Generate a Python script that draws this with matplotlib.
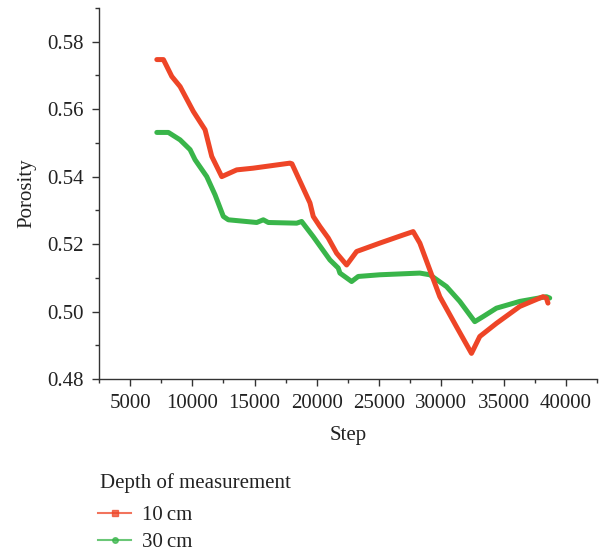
import matplotlib
matplotlib.use("Agg")
import matplotlib.pyplot as plt
from matplotlib.lines import Line2D
from matplotlib.ticker import MultipleLocator

plt.rcParams['font.family'] = ['Liberation Serif', 'DejaVu Serif']

# Porosity at 10 cm depth
step_10 = [7143, 7673, 8347, 9013, 10080, 11020, 11557, 12360, 13564, 14872,
           17842, 18000, 19448, 19712, 20250, 20916, 21590, 22393, 23195, 25065,
           26935, 27738, 28275, 29880, 31220, 32425, 33090, 34430, 36300, 38170,
           38440, 38570]
poro_10 = [0.5747, 0.5747, 0.5697, 0.5667, 0.5593, 0.5539, 0.5460, 0.5400, 0.5420, 0.5425,
           0.5440, 0.5438, 0.5322, 0.5282, 0.5252, 0.5218, 0.5173, 0.5138, 0.5178, 0.5203,
           0.5227, 0.5237, 0.5203, 0.5044, 0.4955, 0.4876, 0.4926, 0.4965, 0.5015, 0.5044,
           0.5040, 0.5025]

# Porosity at 30 cm depth
step_30 = [7143, 8074, 9013, 9816, 10217, 11156, 11822, 12488, 12890, 15169,
           15699, 16100, 18379, 18780, 19712, 21052, 21718, 21855, 22794, 23324,
           25065, 28275, 29078, 30418, 31486, 32690, 33357, 34430, 36300, 38443,
           38710]
poro_30 = [0.5531, 0.5531, 0.5509, 0.5480, 0.5450, 0.5400, 0.5346, 0.5282, 0.5272, 0.5264,
           0.5272, 0.5264, 0.5262, 0.5267, 0.5222, 0.5153, 0.5129, 0.5114, 0.5089, 0.5104,
           0.5109, 0.5114, 0.5109, 0.5074, 0.5030, 0.4970, 0.4985, 0.5010, 0.5030, 0.5044,
           0.5040]

x_ticks = [5000, 10000, 15000, 20000, 25000, 30000, 35000, 40000]
y_ticks = [0.48, 0.50, 0.52, 0.54, 0.56, 0.58]
labels = ["10\u2009cm", "30\u2009cm"]
red = "#EE4527"
green = "#39B54A"
ink = "#222222"
FS = 15

fig = plt.figure(figsize=(6.02, 5.54), dpi=100)
ax = fig.add_axes([0.1645, 0.3159, 0.827, 0.6697])

ax.plot(step_30, poro_30, color=green, lw=3.6, solid_joinstyle='round', solid_capstyle='round')
ax.plot(step_10, poro_10, color=red, lw=3.6, solid_joinstyle='round', solid_capstyle='round')

ax.set_xlim(2500, 42500)
ax.set_ylim(0.48, 0.590)
ax.set_xticks(x_ticks)
ax.set_yticks(y_ticks)
ax.set_yticklabels([f"{v:.2f}" for v in y_ticks])
ax.xaxis.set_minor_locator(MultipleLocator(2500))
ax.yaxis.set_minor_locator(MultipleLocator(0.01))

for side in ("top", "right"):
    ax.spines[side].set_visible(False)
for side in ("left", "bottom"):
    ax.spines[side].set_color("#333333")
    ax.spines[side].set_linewidth(1.0)

ax.tick_params(which="major", length=5, width=1, color="#333333", labelsize=FS, pad=6, labelcolor=ink)
ax.tick_params(which="minor", length=3, width=1, color="#333333")

ax.set_xlabel("Step", fontsize=FS, labelpad=9, color=ink)
ax.set_ylabel("Porosity", fontsize=FS, labelpad=8, color=ink)

# Legend: title as its own text line, entries below
fig.text(100 / 602, 1 - 483 / 554, "Depth of measurement", fontsize=FS, color=ink,
         ha="left", va="center")
handles = [
    Line2D([], [], color=red, lw=1.5, alpha=0.75, marker="s", markersize=4,
           markerfacecolor=red, markeredgecolor=red),
    Line2D([], [], color=green, lw=1.5, alpha=0.75, marker="o", markersize=4,
           markerfacecolor=green, markeredgecolor=green),
]
leg = fig.legend(handles, labels, loc="center left",
                 bbox_to_anchor=(98 / 602, 1 - 529 / 554), frameon=False, fontsize=FS,
                 handlelength=1.6, handletextpad=0.5, labelspacing=0.34,
                 borderaxespad=0, borderpad=0)
for t in leg.get_texts():
    t.set_color(ink)

fig.savefig("out.png", dpi=100)
